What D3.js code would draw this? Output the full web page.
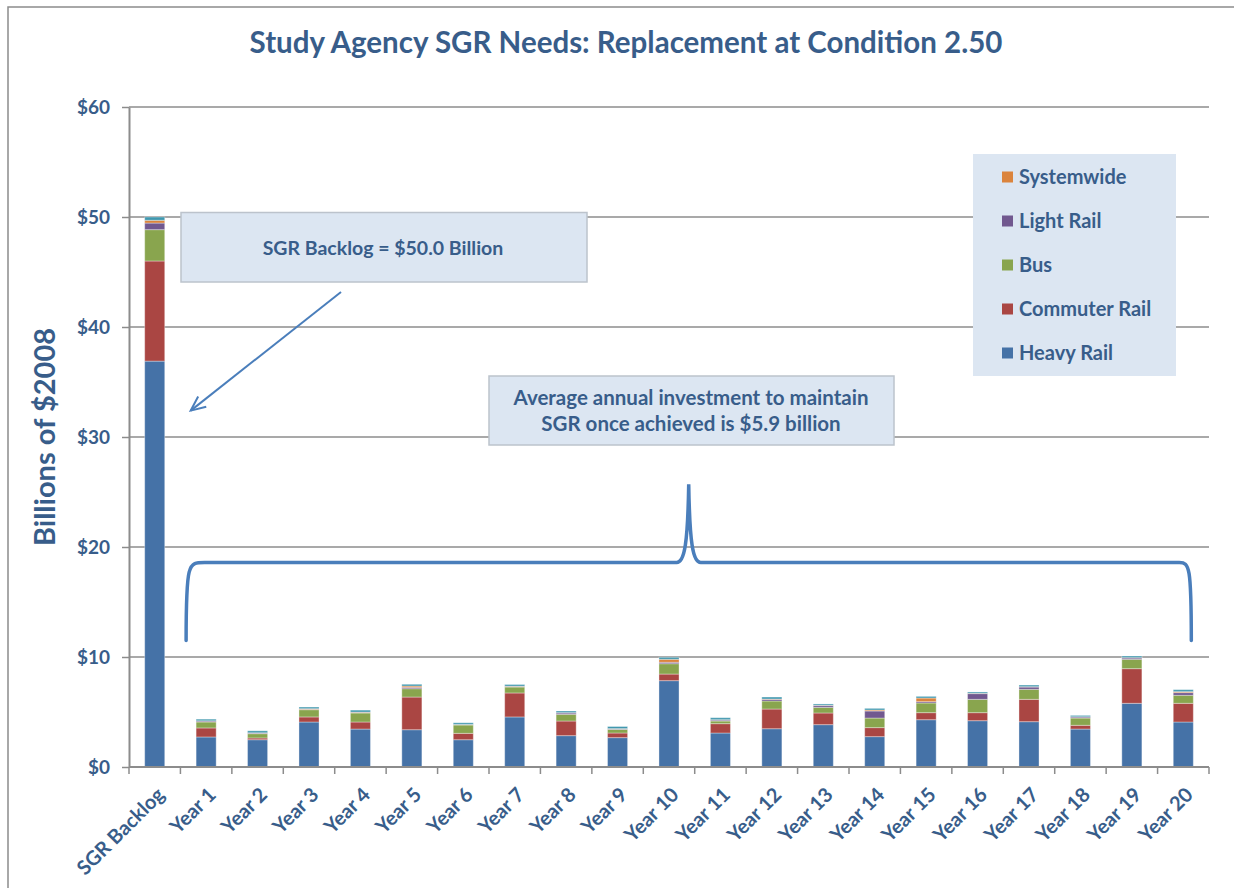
<!DOCTYPE html>
<html>
<head>
<meta charset="utf-8">
<script src="https://cdn.jsdelivr.net/npm/d3@7"></script>
<style>
  body { margin: 0; background: #fff; }
  svg { display: block; font-family: Lato, "Open Sans", sans-serif; font-weight: bold; }
</style>
</head>
<body>
<div class="canvas"></div>
<script>
// categories and series (billions of 2008 dollars)
const categories = ["SGR Backlog", "Year 1", "Year 2", "Year 3", "Year 4", "Year 5", "Year 6", "Year 7",
  "Year 8", "Year 9", "Year 10", "Year 11", "Year 12", "Year 13", "Year 14", "Year 15", "Year 16",
  "Year 17", "Year 18", "Year 19", "Year 20"];
const heavyRail    = [36.9, 2.73, 2.48, 4.09, 3.45, 3.39, 2.48, 4.55, 2.85, 2.67, 7.85, 3.09, 3.48, 3.85, 2.76, 4.30, 4.21, 4.12, 3.45, 5.79, 4.09];
const commuterRail = [9.1, 0.82, 0.16, 0.46, 0.64, 2.97, 0.58, 2.18, 1.33, 0.42, 0.60, 0.85, 1.79, 1.06, 0.82, 0.64, 0.73, 2.03, 0.34, 3.15, 1.70];
const bus          = [2.85, 0.54, 0.39, 0.66, 0.82, 0.76, 0.76, 0.54, 0.61, 0.33, 0.94, 0.24, 0.73, 0.51, 0.87, 0.88, 1.21, 0.91, 0.66, 0.85, 0.73];
const lightRail    = [0.6, 0.09, 0.06, 0.03, 0.05, 0.12, 0.03, 0.05, 0.12, 0.05, 0.13, 0.09, 0.15, 0.16, 0.64, 0.12, 0.52, 0.21, 0.10, 0.12, 0.24];
const systemwide   = [0.25, 0.02, 0.02, 0.06, 0.03, 0.12, 0.02, 0.03, 0.03, 0.02, 0.27, 0.03, 0.03, 0.03, 0.09, 0.33, 0.03, 0.03, 0.02, 0.03, 0.09];
const other        = [0.3, 0.15, 0.18, 0.15, 0.18, 0.16, 0.15, 0.15, 0.15, 0.19, 0.18, 0.18, 0.18, 0.12, 0.15, 0.15, 0.12, 0.15, 0.12, 0.15, 0.18];
const yTicks = [0, 10, 20, 30, 40, 50, 60];

const seriesKeys = ["Heavy Rail", "Commuter Rail", "Bus", "Light Rail", "Systemwide", "Other"];
const seriesVals = [heavyRail, commuterRail, bus, lightRail, systemwide, other];
const colors = ["#4572A7", "#AA4643", "#89A54E", "#71588F", "#DB843D", "#4198AF"];
const legendKeys = ["Systemwide", "Light Rail", "Bus", "Commuter Rail", "Heavy Rail"];

const textColor = "#385D8A";
const gray = "#8C8C8C";
const boxFill = "#DCE6F2";
const noteBlue = "#4A7EBB";

const W = 1234, H = 888;
const plot = { left: 129, right: 1209, top: 107, bottom: 767 };

const svg = d3.select('.canvas').append('svg')
  .attr('width', W)
  .attr('height', H);

// outer frame
svg.append('rect')
  .attr('x', 8).attr('y', 7)
  .attr('width', 1240).attr('height', 900)
  .attr('fill', 'none').attr('stroke', gray).attr('stroke-width', 1.5);

// table for stacking
const table = categories.map((c, i) => {
  const row = { cat: c };
  seriesKeys.forEach((k, j) => row[k] = seriesVals[j][i]);
  return row;
});
const stacked = d3.stack().keys(seriesKeys)(table);

const x = d3.scaleBand()
  .domain(categories)
  .range([plot.left, plot.right])
  .paddingInner(0.61)
  .paddingOuter(0.305);

const y = d3.scaleLinear()
  .domain([0, 60])
  .range([plot.bottom, plot.top]);

// gridlines
svg.append('g').selectAll('line')
  .data(yTicks.filter(d => d > 0))
  .enter().append('line')
    .attr('x1', plot.left).attr('x2', plot.right)
    .attr('y1', d => y(d)).attr('y2', d => y(d))
    .attr('stroke', gray).attr('stroke-width', 1.5);

// y axis
const yAxis = svg.append('g')
  .attr('transform', `translate(${plot.left},0)`)
  .call(d3.axisLeft(y).tickValues(yTicks).tickFormat(d => '$' + d).tickSize(7).tickSizeOuter(0));
yAxis.select('.domain').attr('stroke', gray).attr('stroke-width', 2);
yAxis.selectAll('.tick line').attr('stroke', gray).attr('stroke-width', 1.5);
yAxis.selectAll('.tick text')
  .attr('x', -19)
  .attr('fill', textColor)
  .style('font-size', '19px')
  .style('font-family', 'Lato, sans-serif')
  .style('font-weight', 'bold');

// bars
svg.append('g').selectAll('g')
  .data(stacked)
  .enter().append('g')
    .attr('fill', (d, i) => colors[i])
  .selectAll('rect')
  .data(d => d)
  .enter().append('rect')
    .attr('x', d => x(d.data.cat))
    .attr('y', d => y(d[1]))
    .attr('width', x.bandwidth())
    .attr('height', d => y(d[0]) - y(d[1]))
    .attr('stroke', 'rgba(255,255,255,0.35)')
    .attr('stroke-width', 1);

// x axis line and boundary ticks
svg.append('line')
  .attr('x1', plot.left).attr('x2', plot.right)
  .attr('y1', plot.bottom).attr('y2', plot.bottom)
  .attr('stroke', gray).attr('stroke-width', 2);
const step = x.step();
svg.append('g').selectAll('line')
  .data(d3.range(categories.length + 1))
  .enter().append('line')
    .attr('x1', i => plot.left + i * step).attr('x2', i => plot.left + i * step)
    .attr('y1', plot.bottom).attr('y2', plot.bottom + 7)
    .attr('stroke', gray).attr('stroke-width', 1.5);

// x labels
svg.append('g').selectAll('text')
  .data(categories)
  .enter().append('text')
    .attr('transform', d => `translate(${x(d) + x.bandwidth() / 2 + 6}, ${plot.bottom + 24}) rotate(-45)`)
    .attr('text-anchor', 'end')
    .attr('dy', '0.35em')
    .attr('fill', textColor)
    .style('font-size', '20px')
    .text(d => d);

// y axis title
svg.append('text')
  .attr('transform', `translate(55, ${(plot.top + plot.bottom) / 2}) rotate(-90)`)
  .attr('text-anchor', 'middle')
  .attr('fill', textColor)
  .style('font-size', '29px')
  .text('Billions of $2008');

// title
svg.append('text')
  .attr('x', 626).attr('y', 53)
  .attr('text-anchor', 'middle')
  .attr('fill', textColor)
  .style('font-size', '29.5px')
  .text('Study Agency SGR Needs: Replacement at Condition 2.50');

// legend
const legend = svg.append('g');
legend.append('rect')
  .attr('x', 973).attr('y', 154)
  .attr('width', 203).attr('height', 222)
  .attr('fill', boxFill);
const li = legend.selectAll('g.item')
  .data(legendKeys)
  .enter().append('g')
    .attr('class', 'item')
    .attr('transform', (d, i) => `translate(1002, ${177 + i * 44})`);
li.append('rect')
  .attr('x', 0).attr('y', -5.5)
  .attr('width', 11).attr('height', 11)
  .attr('fill', d => colors[seriesKeys.indexOf(d)]);
li.append('text')
  .attr('x', 17).attr('dy', '0.36em')
  .attr('fill', textColor)
  .style('font-size', '20px')
  .text(d => d);

// annotation: backlog
svg.append('rect')
  .attr('x', 181).attr('y', 212.5)
  .attr('width', 406).attr('height', 69.5)
  .attr('fill', boxFill).attr('stroke', '#BCC3CC').attr('stroke-width', 1.5);
svg.append('text')
  .attr('x', 383).attr('y', 255)
  .attr('text-anchor', 'middle')
  .attr('fill', textColor)
  .style('font-size', '19.5px')
  .text('SGR Backlog = $50.0 Billion');

// arrow pointing at backlog bar
const arrowTip = [x('SGR Backlog') + x.bandwidth() + 26, y(32.4)];
const arrowTail = [341, 292];
svg.append('line')
  .attr('x1', arrowTail[0]).attr('y1', arrowTail[1])
  .attr('x2', arrowTip[0]).attr('y2', arrowTip[1])
  .attr('stroke', noteBlue).attr('stroke-width', 2);
const ang = Math.atan2(arrowTail[1] - arrowTip[1], arrowTail[0] - arrowTip[0]);
const head = [ang - 0.42, ang + 0.42].map(a => [arrowTip[0] + 16 * Math.cos(a), arrowTip[1] + 16 * Math.sin(a)]);
svg.append('path')
  .attr('d', `M${head[0][0]},${head[0][1]}L${arrowTip[0]},${arrowTip[1]}L${head[1][0]},${head[1][1]}`)
  .attr('fill', 'none').attr('stroke', noteBlue).attr('stroke-width', 2);

// annotation: average
svg.append('rect')
  .attr('x', 489).attr('y', 376)
  .attr('width', 405).attr('height', 69)
  .attr('fill', boxFill).attr('stroke', '#BCC3CC').attr('stroke-width', 1.5);
svg.append('text')
  .attr('x', 691).attr('y', 405)
  .attr('text-anchor', 'middle')
  .attr('fill', textColor)
  .style('font-size', '20.5px')
  .text('Average annual investment to maintain');
svg.append('text')
  .attr('x', 691).attr('y', 431)
  .attr('text-anchor', 'middle')
  .attr('fill', textColor)
  .style('font-size', '20.5px')
  .text('SGR once achieved is $5.9 billion');

// curly brace over Years 1-20
const bx0 = x('Year 1') - 10;
const bx1 = x('Year 20') + x.bandwidth() - 2;
const bm = (bx0 + bx1) / 2;
const by = y(18.6), byEnd = y(11.5), byPeak = y(25.7);
const p = d3.path();
p.moveTo(bx0, byEnd);
p.bezierCurveTo(bx0, by - 2, bx0 + 2, by, bx0 + 20, by);
p.lineTo(bm - 12, by);
p.bezierCurveTo(bm - 4, by, bm - 1, by - 20, bm, byPeak);
p.bezierCurveTo(bm + 1, by - 20, bm + 4, by, bm + 12, by);
p.lineTo(bx1 - 12, by);
p.bezierCurveTo(bx1 - 2, by, bx1, by + 4, bx1, byEnd);
svg.append('path')
  .attr('d', p.toString())
  .attr('fill', 'none')
  .attr('stroke', noteBlue)
  .attr('stroke-width', 3.5)
  .attr('stroke-linecap', 'round');
</script>
</body>
</html>
